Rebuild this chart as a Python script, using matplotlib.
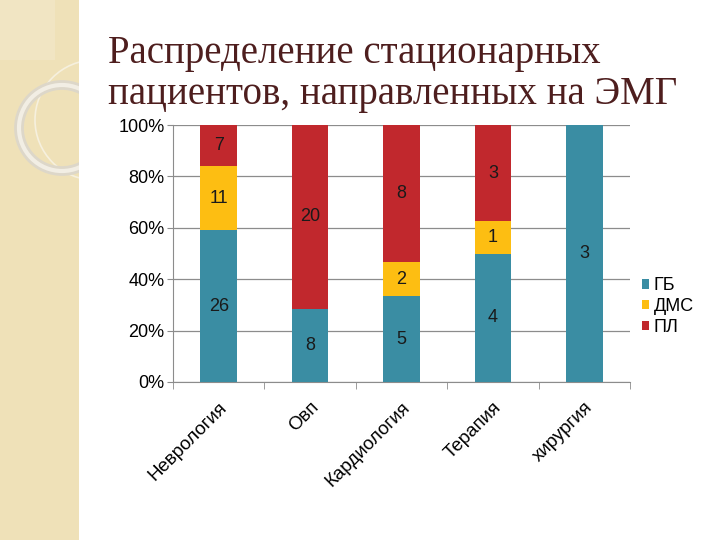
import matplotlib.pyplot as plt
import numpy as np
from matplotlib.patches import Circle, Rectangle

categories = ['Неврология', 'Овп', 'Кардиология', 'Терапия', 'хирургия']
gb = [26, 8, 5, 4, 3]
dms = [11, 0, 2, 1, 0]
pl = [7, 20, 8, 3, 0]
series_names = ['ГБ', 'ДМС', 'ПЛ']
colors = ['#3A8DA3', '#FDBE12', '#C1282D']

plt.rcParams['font.family'] = ['Liberation Sans', 'DejaVu Sans']

fig = plt.figure(figsize=(7.2, 5.4), dpi=100)
fig.patch.set_facecolor('white')

# beige strip on the left with decorative rings (clipped to the strip)
deco = fig.add_axes([0, 0, 1, 1], zorder=0)
deco.set_xlim(0, 720)
deco.set_ylim(540, 0)
deco.axis('off')
strip = Rectangle((0, 0), 79, 540, facecolor='#EFE1B8', edgecolor='none')
deco.add_patch(strip)
deco.add_patch(Rectangle((0, 0), 55, 60, facecolor='#F1E5C3', edgecolor='none'))
for c in [Circle((95, 120), 60, fill=False, edgecolor='#F6F0DE', lw=1.2),
          Circle((62, 128), 43, fill=False, edgecolor='#DDD7C9', lw=7),
          Circle((62, 128), 43, fill=False, edgecolor='#F2EEE4', lw=3)]:
    deco.add_patch(c)
    c.set_clip_path(strip)

title_font = ['Liberation Serif', 'DejaVu Serif']
fig.text(108 / 720, 1 - 63 / 540, 'Распределение стационарных',
         family=title_font, fontsize=28, color='#4E1E1E', va='baseline')
fig.text(108 / 720, 1 - 104 / 540, 'пациентов, направленных на ЭМГ',
         family=title_font, fontsize=28, color='#4E1E1E', va='baseline')

ax = fig.add_axes([173 / 720, 1 - 382 / 540, 457 / 720, 257 / 540], zorder=2)
ax.patch.set_alpha(0)

data = np.array([gb, dms, pl], dtype=float)
totals = data.sum(axis=0)
pct = data / totals * 100
x = np.arange(len(categories))
bottom = np.zeros(len(categories))
for i, name in enumerate(series_names):
    ax.bar(x, pct[i], 0.4, bottom=bottom, color=colors[i], label=name, zorder=3)
    for j in range(len(categories)):
        if data[i, j] > 0:
            ax.text(x[j], bottom[j] + pct[i, j] / 2, f'{int(data[i, j])}',
                    ha='center', va='center', fontsize=13, color='#1A1A1A', zorder=4)
    bottom += pct[i]

ax.set_xlim(-0.5, len(categories) - 0.5)
ax.set_ylim(0, 100)
ax.set_yticks(np.arange(0, 101, 20))
ax.set_yticklabels([f'{v}%' for v in range(0, 101, 20)], fontsize=13)
ax.yaxis.grid(True, color='#8C8C8C', lw=0.9, zorder=0)
ax.set_axisbelow(True)
ax.set_xticks(x)
ax.set_xticklabels(categories, rotation=45, ha='right', rotation_mode='anchor', fontsize=13.5)
ax.tick_params(axis='x', length=0, pad=12)
ax.set_xticks(np.arange(-0.5, len(categories), 1), minor=True)
ax.tick_params(axis='x', which='minor', length=5, color='#8C8C8C')
ax.tick_params(axis='y', length=4, color='#8C8C8C', pad=2)
for s in ['top', 'right']:
    ax.spines[s].set_visible(False)
for s in ['left', 'bottom']:
    ax.spines[s].set_color('#8C8C8C')

ax.legend(loc='upper left', bbox_to_anchor=(1.01, 0.435), frameon=False, fontsize=13,
          handlelength=0.4, handleheight=0.4, handletextpad=0.25, labelspacing=0.2,
          borderaxespad=0)

fig.savefig('out.png', dpi=100)
